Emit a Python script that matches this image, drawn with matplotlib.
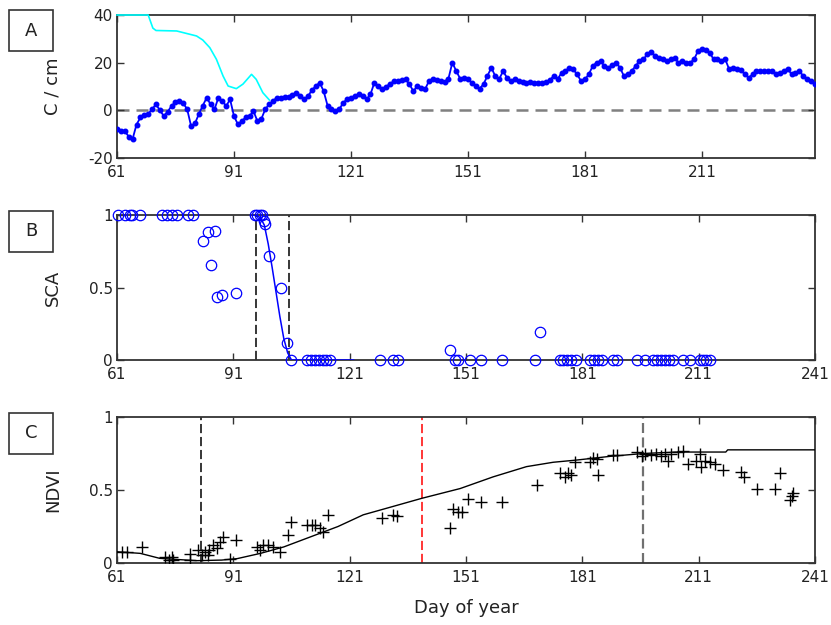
#!/usr/bin/env python3
"""
Three stacked panels: degree/snow series (A), snow covered area (B), NDVI (C).
"""

import numpy as np
import matplotlib.pyplot as plt
from matplotlib.patches import Rectangle

# --- Panel A: daily series, day 61..240 ---
a_days = np.arange(61, 241)
a_blue = [
    -8, -8.5, -8.7, -11, -12, -6, -3, -2, -1.5, 0.5,
    2.5, 0, -2.4, -0.5, 1.8, 3.5, 3.9, 3, 0.4, -6.6,
    -5.5, -1.5, 2, 5.3, 2.5, 0.4, 5.3, 3.9, 1.8, 4.6,
    -2.4, -5.9, -4.5, -3, -2.4, -0.3, -4.5, -3.7, 0.4, 2.5,
    3.9, 5.3, 5.3, 5.6, 5.8, 6.5, 7.4, 6.2, 4.6, 6,
    8.5, 10.2, 11.6, 8, 2, 0.4, -0.1, 0.4, 3.2, 4.6,
    5.3, 6, 6.7, 6.2, 4.6, 6.7, 11.6, 10.2, 8.8, 10,
    11, 12.3, 12.3, 12.6, 13, 11, 8, 10.2, 9.5, 8.8,
    12.3, 13, 12.6, 12.3, 11.9, 13.3, 20, 16.5, 13.3, 13.7,
    13, 11.6, 10.2, 9.1, 11, 14.4, 17.9, 14.4, 13, 16.5,
    13.7, 12.3, 13, 12.3, 12, 11.6, 11.9, 11.6, 11.6, 11.6,
    11.9, 12.7, 14.4, 13, 15.8, 16.5, 17.9, 17.2, 15.1, 12.3,
    13, 15.1, 18.6, 20, 20.7, 18.6, 17.9, 19, 20, 17.9,
    14.4, 15.1, 16.5, 18.6, 20.7, 21.4, 23.5, 24.5, 22.8, 22,
    21.5, 20.7, 21.4, 22, 20, 20.7, 20, 20, 21.4, 24.9,
    25.9, 25.5, 24.2, 21.4, 21.4, 20.7, 21.4, 17.2, 17.9, 17.5,
    17, 15.1, 13.7, 15.1, 16.5, 16.5, 16.5, 16.5, 16.5, 15.1,
    15.5, 16.5, 17.5, 15.1, 15.8, 16.5, 14.4, 13, 12.3, 10.9,
]
cyan_days = [61, 69, 70.2, 71, 76.3, 79.7, 81.4, 83, 84.8, 86.5, 88.2, 89.5,
             91.6, 93.3, 95.5, 96.7, 98.4, 100.1]
cyan_vals = [40, 40, 34.5, 33.5, 33.3, 31.9, 31.2, 29.5, 26.3, 21.4, 14.4, 10.2,
             9.1, 11, 15.1, 13, 7.4, 4.3]

# --- Panel B: snow covered area ---
sca_days = [61.3, 63, 64.3, 64.8, 66.9, 72.5, 73.8, 75.1, 76.4, 79.4, 80.7,
            83.1, 84.5, 86.3, 85.2, 86.7, 88.2, 91.8,
            96.6, 97.2, 97.8, 98.4, 98.9, 99.2, 100.3, 103.3, 104.9, 106,
            110, 111, 112, 113, 114, 115, 116, 128.8, 132.2, 133.5,
            146.9, 148.2, 149, 152, 155, 160.2, 168.8, 170.1,
            175.2, 176, 177, 178, 179.5, 183, 184, 185, 186, 189, 190,
            195, 197.2, 199.3, 200.3, 201.3, 202.3, 203.3, 204.4, 207, 208.8,
            211.3, 212.2, 213, 213.9]
sca_vals = [1, 1, 1, 1, 1, 1, 1, 1, 1, 1, 1,
            0.82, 0.885, 0.89, 0.655, 0.436, 0.45, 0.46,
            1, 1, 1, 1, 0.96, 0.94, 0.72, 0.5, 0.12, 0,
            0, 0, 0, 0, 0, 0, 0, 0, 0, 0,
            0.07, 0, 0, 0, 0, 0, 0, 0.19,
            0, 0, 0, 0, 0, 0, 0, 0, 0, 0, 0,
            0, 0, 0, 0, 0, 0, 0, 0, 0, 0,
            0, 0, 0, 0]
sca_fit_days = [96, 97, 98, 99, 100, 101, 102, 103, 104, 105, 106, 122]
sca_fit_vals = [1, 1, 0.98, 0.93, 0.8, 0.64, 0.47, 0.3, 0.15, 0.05, 0, 0]
sca_bounds = [96.8, 105.4]

# --- Panel C: NDVI ---
ndvi_days = [62.2, 63.5, 67.4, 73.4, 74.3, 75.1, 75.5, 79.8, 79.8, 82, 82.8,
             83.7, 84.5, 84.7, 85.8, 86.7, 87.6, 88.4, 91.7, 90.1,
             97, 97.8, 98.7, 100, 101.3, 103, 105.2, 106, 109.9, 111.2,
             112.1, 113.3, 114.2, 115.5, 129.3, 132.3, 133.2,
             146.9, 147.7, 148.9, 149.9, 151.6, 155, 160.2, 169.2,
             175.2, 176.5, 177.3, 178.2, 179.1, 183, 183.8, 184.7, 185.1,
             189, 189.9, 195, 196.3, 197.1, 198.8, 200.1, 201.4, 202.2,
             203.1, 203.9, 205.6, 206.9, 208.3, 210.4, 211.3, 211.7, 212.6,
             213.9, 215.2, 217.3, 222, 222.8, 226, 230.7, 232, 234.5,
             235.4, 235]
ndvi_vals = [0.077, 0.077, 0.107, 0.043, 0.02, 0.043, 0.018, 0.02, 0.06, 0.09, 0.055,
             0.077, 0.055, 0.09, 0.123, 0.1, 0.146, 0.18, 0.157, 0.03,
             0.11, 0.09, 0.12, 0.12, 0.11, 0.077, 0.19, 0.28, 0.26, 0.26,
             0.26, 0.24, 0.21, 0.33, 0.31, 0.33, 0.32,
             0.24, 0.37, 0.35, 0.35, 0.44, 0.42, 0.42, 0.534,
             0.614, 0.59, 0.614, 0.6, 0.69, 0.69, 0.72, 0.71, 0.6,
             0.74, 0.74, 0.76, 0.73, 0.75, 0.74, 0.75, 0.73, 0.75,
             0.70, 0.75, 0.76, 0.77, 0.68, 0.70, 0.75, 0.66, 0.70,
             0.69, 0.68, 0.64, 0.625, 0.59, 0.51, 0.51, 0.614, 0.43,
             0.48, 0.46]
ndvi_fit_days = [61, 67, 72, 76, 81.5, 88, 92, 98, 104, 111, 118, 124.5, 132,
                 139.6, 149.5, 158, 166.6, 173.5, 179.5, 188, 196.7, 205, 218,
                 218.5, 241]
ndvi_fit_vals = [0.077, 0.066, 0.032, 0.025, 0.016, 0.02, 0.03, 0.066, 0.11,
                 0.18, 0.25, 0.33, 0.386, 0.443, 0.51, 0.59, 0.66, 0.69, 0.705,
                 0.73, 0.75, 0.76, 0.76, 0.775, 0.775]
ndvi_marks = [82.7, 139.6, 196.7]

XTICKS = [61, 91, 121, 151, 181, 211, 241]
TXT = "#222222"
SPINE = "#333333"


def style_axis(ax, xlim, ylim, yticks, ylabel):
    ax.set_xlim(*xlim)
    ax.set_ylim(*ylim)
    ax.set_xticks([t for t in XTICKS if t <= xlim[1]])
    ax.set_yticks(yticks)
    ax.set_yticklabels([f"{t:g}" for t in yticks])
    ax.tick_params(direction="in", top=True, right=True, length=5,
                   width=1, labelsize=11, labelcolor=TXT, color=SPINE, pad=3)
    ax.tick_params(axis="x", pad=5)
    for s in ax.spines.values():
        s.set_color(SPINE)
        s.set_linewidth(1.3)
    ax.set_ylabel(ylabel, fontsize=13, color=TXT)
    ax.yaxis.set_label_coords(-0.079, 0.5)


def panel_box(fig, y0, letter):
    fig.patches.append(Rectangle((0.0108, y0), 0.053, 0.0656, transform=fig.transFigure,
                                 fill=False, ec=SPINE, lw=1.2))
    fig.text(0.0108 + 0.0265, y0 + 0.0328, letter, ha="center", va="center",
             fontsize=13, color=TXT)


def main():
    fig = plt.figure(figsize=(8.31, 6.25), dpi=100)
    ax1 = fig.add_axes([0.1408, 0.7472, 0.8399, 0.2288])
    ax2 = fig.add_axes([0.1408, 0.424, 0.8399, 0.232])
    ax3 = fig.add_axes([0.1408, 0.0992, 0.8399, 0.2336])

    # A
    ax1.axhline(0, color="#808080", lw=1.8, dashes=(4.8, 2.8), zorder=1)
    ax1.plot(cyan_days, cyan_vals, color="cyan", lw=1.2, clip_on=False, zorder=3)
    ax1.plot(a_days, a_blue, color="blue", lw=1.3, marker=".", ms=6.5, zorder=4)
    style_axis(ax1, (61, 240), (-20, 40), [-20, 0, 20, 40], "C / cm")

    # B
    for d in sca_bounds:
        ax2.axvline(d, color="black", lw=1.1, dashes=(6, 2.5), zorder=1)
    ax2.plot(sca_fit_days, sca_fit_vals, color="blue", lw=1.1, zorder=3)
    ax2.plot(sca_days, sca_vals, "o", mfc="none", mec="blue", ms=7.5, mew=0.9,
             clip_on=False, zorder=4)
    style_axis(ax2, (61, 241), (0, 1), [0, 0.5, 1], "SCA")

    # C
    ax3.axvline(ndvi_marks[0], color="black", lw=1.1, dashes=(6, 2.5), zorder=1)
    ax3.axvline(ndvi_marks[1], color="red", lw=1.1, dashes=(6, 2.5), zorder=1)
    ax3.axvline(ndvi_marks[2], color="#707070", lw=1.6, dashes=(4.5, 2), zorder=1)
    ax3.plot(ndvi_fit_days, ndvi_fit_vals, color="black", lw=1.0, zorder=3)
    ax3.plot(ndvi_days, ndvi_vals, "+", color="black", ms=8, mew=1.0, zorder=4)
    style_axis(ax3, (61, 241), (0, 1), [0, 0.5, 1], "NDVI")
    ax3.set_xlabel("Day of year", fontsize=13, color=TXT, labelpad=10)

    panel_box(fig, 0.9184, "A")
    panel_box(fig, 0.5968, "B")
    panel_box(fig, 0.2736, "C")

    plt.savefig("out.png", dpi=100)
    plt.close()


if __name__ == "__main__":
    main()
